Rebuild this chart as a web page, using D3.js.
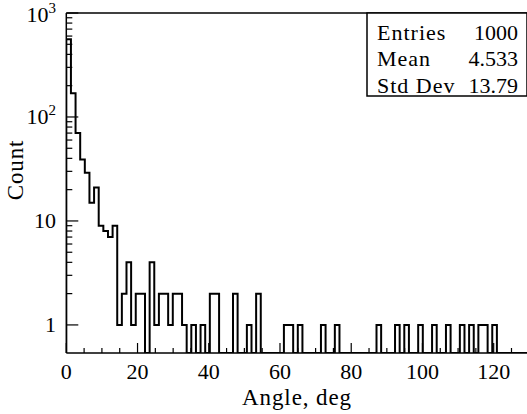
<!DOCTYPE html>
<html><head><meta charset="utf-8">
<script src="https://cdn.jsdelivr.net/npm/d3@7"></script>
<style>
body{margin:0;background:#fff;}
svg{display:block;}
text{font-family:"Liberation Serif","DejaVu Serif",serif;fill:#000;}
</style></head>
<body>
<svg id="c" width="527" height="414"></svg>
<script>
// Histogram: 100 bins from 0 to 130 deg (bin width 1.3)
const binLow = 0, binHigh = 130, nBins = 100;
const counts = [
 560,169,70,39,29,15,21,9,8,7,
 9,1,2,4,1,2,2,0,4,1,
 2,2,1,2,2,1,0,1,0,1,
 0,2,2,0,0,0,2,0,0,1,
 0,2,0,0,0,0,0,1,1,0,
 1,0,0,0,0,1,0,0,1,0,
 0,0,0,0,0,0,0,1,0,0,
 0,1,0,1,0,0,1,0,0,1,
 0,0,1,0,0,1,0,1,0,1,
 1,0,1,0,0,0,0,0,0,0
];
const xTicks = [0,20,40,60,80,100,120];
const yTicks = [1,10,100,1000];
const yTickLabels = [["1",""],["10",""],["10","2"],["10","3"]];
const statNames = ["Entries","Mean","Std Dev"];
const statValues = ["1000","4.533","13.79"];
const xTitle = "Angle, deg";
const yTitle = "Count";

const svg = d3.select("#c");
const L = 66.3, R = 529.3, T = 13, B = 353;
const x = d3.scaleLinear().domain([binLow, binHigh]).range([L, R]);
const y = d3.scaleLog().domain([Math.pow(10,-0.27), 1000]).range([B, T]);
const bw = (binHigh - binLow) / nBins;

svg.append("defs").append("clipPath").attr("id","cp")
  .append("rect").attr("x",L).attr("y",T).attr("width",R-L).attr("height",B-T);

// histogram step path
let p = d3.path();
p.moveTo(x(binLow), B);
counts.forEach((c,i)=>{
  const yy = c>0 ? y(c) : B;
  p.lineTo(x(binLow+i*bw), yy);
  p.lineTo(x(binLow+(i+1)*bw), yy);
});
p.lineTo(x(binHigh), B);
svg.append("path").attr("d", p.toString()).attr("fill","none")
  .attr("stroke","#000").attr("stroke-width",2).attr("stroke-linejoin","miter")
  .attr("clip-path","url(#cp)");

// frame
const fr = svg.append("g").attr("stroke","#000").attr("stroke-width",1.5).attr("fill","none");
fr.append("line").attr("x1",L).attr("x2",R).attr("y1",T).attr("y2",T);
fr.append("line").attr("x1",L).attr("x2",R).attr("y1",B).attr("y2",B);
fr.append("line").attr("x1",L).attr("x2",L).attr("y1",T).attr("y2",B);
fr.append("line").attr("x1",R).attr("x2",R).attr("y1",T).attr("y2",B);

// x ticks (inside)
const tk = svg.append("g").attr("stroke","#000").attr("stroke-width",1.2);
for(let v=0; v<=130; v+=5){
  const major = v%20===0;
  tk.append("line").attr("x1",x(v)).attr("x2",x(v)).attr("y1",B).attr("y2",B-(major?10:5));
}
// y ticks (inside)
for(let e=0;e<3;e++){
  for(let m=1;m<=9;m++){
    const v = m*Math.pow(10,e);
    tk.append("line").attr("x1",L).attr("x2",L+(m===1?12:6)).attr("y1",y(v)).attr("y2",y(v));
  }
}
tk.append("line").attr("x1",L).attr("x2",L+12).attr("y1",y(1000)).attr("y2",y(1000));

// x tick labels
svg.append("g").selectAll("text").data(xTicks).join("text")
  .attr("x",d=>x(d)).attr("y",379).attr("text-anchor","middle")
  .attr("font-size",22).text(d=>d);

// y tick labels
const yl = svg.append("g").selectAll("text").data(yTicks).join("text")
  .attr("x",56).attr("y",(d)=>Math.max(y(d)+7, 22)).attr("text-anchor","end").attr("font-size",22);
yl.each(function(d,i){
  const t = d3.select(this);
  t.append("tspan").text(yTickLabels[i][0]);
  if(yTickLabels[i][1]) t.append("tspan").attr("dy",-9).attr("font-size",15).text(yTickLabels[i][1]);
});

// titles
svg.append("text").attr("x",297).attr("y",405).attr("text-anchor","middle")
  .attr("font-size",23).attr("letter-spacing",0.9).text(xTitle);
svg.append("text").attr("transform","translate(23,170) rotate(-90)")
  .attr("text-anchor","middle").attr("font-size",23).attr("letter-spacing",0.9).text(yTitle);

// stats box
const bx = 367, by = T, bwid = 527-367, bh = 83;
svg.append("rect").attr("x",bx).attr("y",by).attr("width",bwid).attr("height",bh)
  .attr("fill","#fff").attr("stroke","#000").attr("stroke-width",1.5);
statNames.forEach((n,i)=>{
  svg.append("text").attr("x",377).attr("y",39.5+i*26.7).attr("font-size",22)
    .attr("letter-spacing",1).text(n);
  svg.append("text").attr("x",518).attr("y",39.5+i*26.7).attr("text-anchor","end")
    .attr("font-size",22).text(statValues[i]);
});
</script>
</body></html>
